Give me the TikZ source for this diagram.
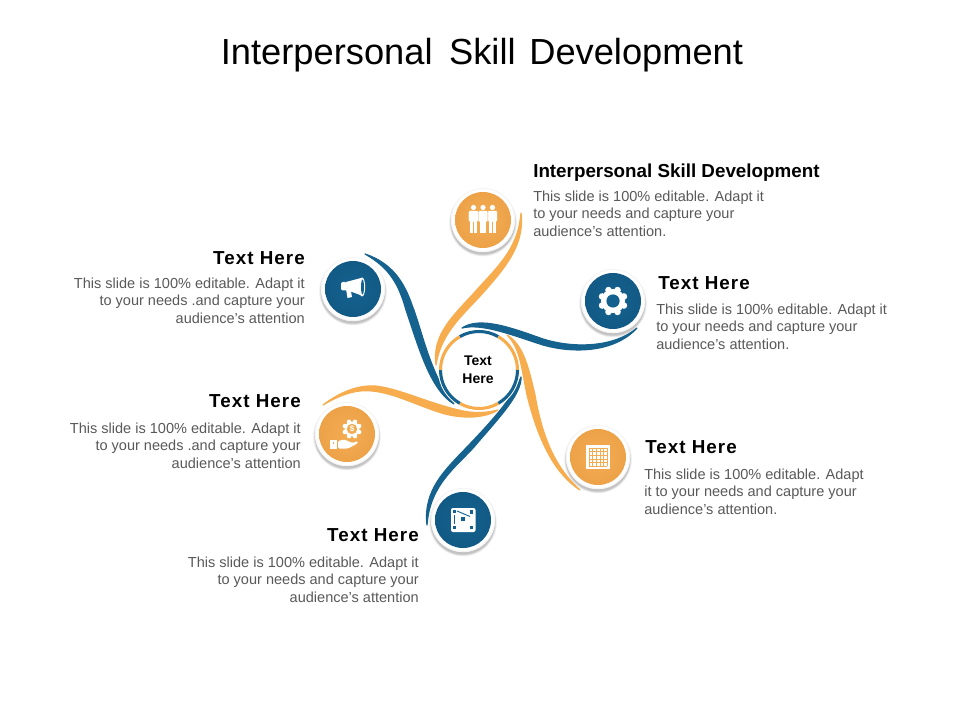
\documentclass[tikz,border=0pt]{standalone}
\usepackage{fontspec}
\setmainfont{Liberation Sans}
\newfontfamily\hsp{Liberation Sans}[LetterSpace=5.5]
\usetikzlibrary{calc}
\definecolor{swo}{HTML}{F7AC4E}
\definecolor{swb}{HTML}{15628F}
\definecolor{oin}{HTML}{F3AC52}
\definecolor{oed}{HTML}{EDA248}
\definecolor{bin}{HTML}{14618F}
\definecolor{bed}{HTML}{125A85}
\definecolor{bodygray}{HTML}{595959}
\tikzset{
 titletext/.style={font=\fontsize{27.2}{32}\selectfont,text=black,inner sep=0pt},
 headtext/.style={font=\fontsize{14.1}{16}\selectfont\bfseries,text=black,inner sep=0pt},
 headspaced/.style={font=\fontsize{14.1}{16}\selectfont\hsp\bfseries,text=black,inner sep=0pt},
 bodytext/.style={font=\fontsize{10.9}{13.1}\selectfont,text=bodygray,inner sep=0pt},
 centertext/.style={font=\fontsize{10.5}{13.3}\selectfont\bfseries,text=black,inner sep=0pt,align=center},
 ringarc/.style={line width=2.3pt,line cap=butt},
 swooshband/.style={fill=#1,draw=#1,line width=.9pt,line join=round},
}
% icon disc
\newcommand{\disc}[4]{% name,x,y,col
 \foreach \rr/\op in {34/.03,33.5/.04,33/.05,32.5/.06,32/.07}{\fill[black,opacity=\op] (#2,#3+2.5) circle (\rr);}
 \fill[white] (#2,#3) circle (32);
 \draw[black!4,line width=.7pt] (#2,#3) circle (31.6);
 \node[circle,minimum size=42pt,inner sep=0pt,inner color=#4in,outer color=#4ed] (#1) at (#2,#3) {};}
\begin{document}
\begin{tikzpicture}[x=.75pt,y=-.75pt]
\useasboundingbox (0,0) rectangle (960,720);
\fill[white] (0,0) rectangle (960,720);
\node[titletext] (title) at (482,55.5) {Interpersonal\hspace{.18em} Skill\hspace{.1em} Development};
% swooshes
\path[swooshband=swo] (521,213) .. controls (525,245) and (505,268) .. (482,294) .. controls (462,316) and (441,333) .. (436,365)
  .. controls (432,335) and (452,317) .. (474,293) .. controls (497,267) and (518,250) .. (521,213) -- cycle;
\path[swooshband=swb] (462,328) .. controls (480,316) and (512,328) .. (543,339) .. controls (575,349) and (615,347) .. (637,328)
  .. controls (615,352) and (575,354) .. (543,345) .. controls (512,335) and (482,323) .. (462,328) -- cycle;
\path[swooshband=swo] (507,335) .. controls (524,345) and (529,370) .. (535,395) .. controls (541,430) and (552,465) .. (580,490)
  .. controls (552,472) and (537,435) .. (527,395) .. controls (521,365) and (520,348) .. (507,335) -- cycle;
\path[swooshband=swb] (427,525) .. controls (423,490) and (445,470) .. (467,447) .. controls (490,423) and (513,398) .. (521,377)
  .. controls (522,395) and (495,422) .. (474,447) .. controls (455,468) and (430,485) .. (427,525) -- cycle;
\path[swooshband=swo] (323,405) .. controls (340,392) and (358,385) .. (375,386) .. controls (398,388) and (430,404) .. (463,411)
  .. controls (478,414) and (490,412) .. (498,410) .. controls (485,418) and (465,419) .. (445,414)
  .. controls (420,407) and (395,393) .. (372,391) .. controls (355,389) and (338,396) .. (323,405) -- cycle;
\path[swooshband=swb] (365,254) .. controls (392,263) and (404,282) .. (412,305) .. controls (422,330) and (430,375) .. (454,404)
  .. controls (430,390) and (418,345) .. (406,310) .. controls (399,285) and (390,268) .. (365,254) -- cycle;
% ring
\coordinate (hub) at (479,370);
\fill[white] (hub) circle (41);
\foreach \a/\b/\c in {60/120/swb,0/60/swo,300/360/swb,240/300/swo,180/240/swb,120/180/swo}{
 \draw[ringarc,\c] ([shift={(-\a:38.5)}]hub) arc[start angle=-\a,delta angle=-60,radius=38.5];
}
\node[centertext] (hubtext) at (478,369.5) {Text\\Here};
% discs
\disc{d1}{483}{220}{o}
\disc{d2}{613}{301}{b}
\disc{d3}{598}{457}{o}
\disc{d4}{463}{520}{b}
\disc{d5}{347}{434}{o}
\disc{d6}{353}{289}{b}
% people icon
\begin{scope}[shift={(483,220)}]
 \foreach \x in {-9.5,9.5,0}{
  \fill[white] (\x,-12.5) circle (2.6);
  \draw[oin,line width=.3pt,fill=white,rounded corners=.8] (\x-4.8,-9.4) rectangle (\x+4.8,2);
  \fill[white] (\x-3.4,0) rectangle (\x-.15,13.5);
  \fill[white] (\x+.15,0) rectangle (\x+3.4,13.5);
 }
\end{scope}
% gear
\begin{scope}[shift={(613,301)}]
 \fill[white] (0,0) circle (12);
 \foreach \t in {22.5,67.5,...,360}{\fill[white] (\t:11.8) circle (3.3);}
 \fill[bin] (0,0) circle (6.6);
\end{scope}
% grid
\begin{scope}[shift={(598,457)}]
 \fill[white] (-12,-12) rectangle (12,12);
 \foreach \g in {-9,-5.4,-1.8,1.8,5.4,9}{
  \draw[oin,line width=.4pt] (\g,-9) -- (\g,9);
  \draw[oin,line width=.4pt] (-9,\g) -- (9,\g);
 }
\end{scope}
% square with dots
\begin{scope}[shift={(463,520)}]
 \fill[white,rounded corners=1.5] (-12,-12) rectangle (12.5,12);
 \foreach \px/\py in {-8.5/-8.5,8.5/-8,0/-1,8.5/7.5,-8.5/7.5}{\fill[bin] (\px-1.7,\py-1.7) rectangle (\px+1.7,\py+1.7);}
 \draw[bin,line width=.7pt] (-6,-9) -- (7,-3.5);
 \draw[bin,line width=.7pt] (-8.5,-5) -- (-8.5,4);
\end{scope}
% hand and gear
\begin{scope}[shift={(347,434)}]
 \fill[white] (5,-5) circle (7.5);
 \foreach \t in {22.5,67.5,...,360}{\fill[white] ($(5,-5)+(\t:7.8)$) circle (2.2);}
 \fill[oin] (5,-5) circle (5.2);
 \node[font=\fontsize{6}{6}\selectfont\bfseries,text=white,inner sep=0pt] (dollar) at (5,-5) {\$};
 \fill[white] (-17,6) rectangle (-10.5,14.5);
 \fill[oin] (-14.5,8) rectangle (-13,10);
 \fill[white,rounded corners=1] (-9,7) -- (-3,5.5) -- (1,7) -- (5,9) -- (11,7) -- (10.5,9.5) -- (1,14.5) -- (-9,14.5) -- cycle;
\end{scope}
% megaphone
\begin{scope}[shift={(353,289)}]
 \fill[white,rounded corners=1.5] (-12,-7) -- (-6,-7) -- (-5,1.5) -- (-12,1.5) -- cycle;
 \fill[white] (-7,0) -- (-2.5,0) -- (-1,8) -- (-5.5,9) -- cycle;
 \fill[white] (-7,-7) -- (8,-11) -- (10,7) -- (-5,1.5) -- cycle;
 \fill[white] (9,-2) ellipse (3.2 and 9.5);
 \fill[bin] (9.5,-2) ellipse (1.5 and 7.5);
\end{scope}
% texts
\node[headtext,anchor=west] (h1) at (533,172.5) {Interpersonal Skill Development};
\node[bodytext,anchor=west,align=left] (b1) at (533,213.5) {This slide is 100\% editable. Adapt it\\to your needs and capture your\\audience's attention.};
\node[headspaced,anchor=west] (h2) at (658,283.5) {Text Here};
\node[bodytext,anchor=west,align=left] (b2) at (656,326.5) {This slide is 100\% editable. Adapt it\\to your needs and capture your\\audience's attention.};
\node[headspaced,anchor=west] (h3) at (645,447.5) {Text Here};
\node[bodytext,anchor=west,align=left] (b3) at (644,491.5) {This slide is 100\% editable. Adapt\\it to your needs and capture your\\audience's attention.};
\node[headspaced,anchor=east] (h6) at (305,258.5) {Text Here};
\node[bodytext,anchor=east,align=right] (b6) at (305,300.5) {This slide is 100\% editable. Adapt it\\to your needs .and capture your\\audience's attention};
\node[headspaced,anchor=east] (h5) at (301,401.5) {Text Here};
\node[bodytext,anchor=east,align=right] (b5) at (301,445.5) {This slide is 100\% editable. Adapt it\\to your needs .and capture your\\audience's attention};
\node[headspaced,anchor=east] (h4) at (419,535.5) {Text Here};
\node[bodytext,anchor=east,align=right] (b4) at (419,579.5) {This slide is 100\% editable. Adapt it\\to your needs and capture your\\audience's attention};
\end{tikzpicture}
\end{document}
